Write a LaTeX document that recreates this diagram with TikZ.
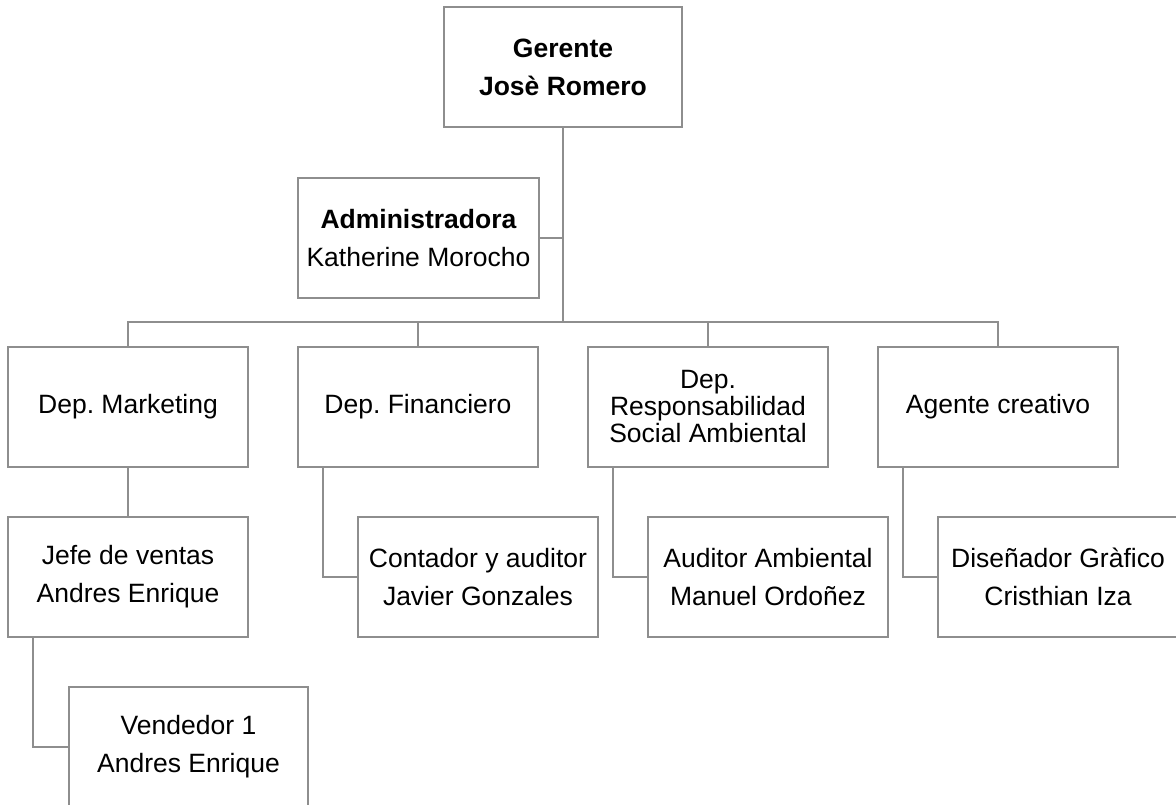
\documentclass[tikz,border=0pt]{standalone}
\usepackage{fontspec}
\setmainfont{Liberation Sans}
\frenchspacing
\definecolor{linegray}{RGB}{142,142,142}
\begin{document}
\begin{tikzpicture}[x=1pt,y=-1pt,
  box/.style={draw=linegray,line width=2pt,fill=white,minimum width=240pt,minimum height=120pt,align=center,inner sep=0pt,
    font=\fontsize{26.5}{38}\selectfont},
  tightbox/.style={box,font=\fontsize{26.5}{27}\selectfont},
  conn/.style={draw=linegray,line width=2pt}]
\useasboundingbox (0,0) rectangle (1176,804);
\clip (0,0) rectangle (1176,804);
% nodes
\node[box,minimum width=238pt] (ger) at (563,67) {\textbf{Gerente}\\\textbf{Josè Romero}};
\node[box,minimum width=241pt] (adm) at (418.5,238) {\textbf{Administradora}\\Katherine Morocho};
\node[box] (mkt) at (128,407) {Dep.\ Marketing};
\node[box] (fin) at (418,407) {Dep.\ Financiero};
\node[tightbox] (rsa) at (708,407) {Dep.\\Responsabilidad\\Social Ambiental};
\node[box] (age) at (998,407) {Agente creativo};
\node[box] (jef) at (128,577) {Jefe de ventas\\Andres Enrique};
\node[box] (con) at (478,577) {Contador y auditor\\Javier Gonzales};
\node[box] (aud) at (768,577) {Auditor Ambiental\\Manuel Ordoñez};
\node[box] (dis) at (1058,577) {Diseñador Gràfico\\Cristhian Iza};
\node[box,minimum width=239pt] (ven) at (188.5,747) {Vendedor 1\\Andres Enrique};
\coordinate (bus) at (128,322);
% connectors
\draw[conn] (ger.south) -- (ger.south |- bus);
\draw[conn] (adm.east) -- (adm.east -| ger.south);
\draw[conn] (mkt.north) -- (mkt.north |- bus) -- (age.north |- bus) -- (age.north);
\draw[conn] (fin.north) -- (fin.north |- bus);
\draw[conn] (rsa.north) -- (rsa.north |- bus);
\draw[conn] (mkt.south) -- (jef.north);
\draw[conn] ([xshift=-95pt]fin.south) |- (con.west);
\draw[conn] ([xshift=-95pt]rsa.south) |- (aud.west);
\draw[conn] ([xshift=-95pt]age.south) |- (dis.west);
\draw[conn] ([xshift=-95pt]jef.south) |- (ven.west);
\end{tikzpicture}
\end{document}
